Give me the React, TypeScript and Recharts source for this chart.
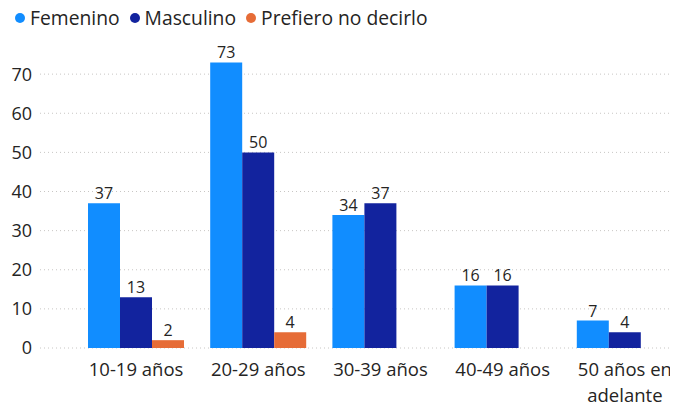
import React from "react";
import { BarChart, Bar, XAxis, YAxis, CartesianGrid, LabelList, Text } from "recharts";

const categories = ["10-19 años", "20-29 años", "30-39 años", "40-49 años", "50 años en adelante"];
const femenino = [37, 73, 34, 16, 7];
const masculino = [13, 50, 37, 16, 4];
const prefiero: (number | null)[] = [2, 4, null, null, null];
const yTicks = [0, 10, 20, 30, 40, 50, 60, 70];

const series = [
  { key: "femenino", name: "Femenino", color: "#118DFF" },
  { key: "masculino", name: "Masculino", color: "#12239E" },
  { key: "prefiero", name: "Prefiero no decirlo", color: "#E66C37" },
];

const data = categories.map((c, i) => ({
  cat: c,
  femenino: femenino[i],
  masculino: masculino[i],
  prefiero: prefiero[i],
}));

const FONT = "'Segoe UI', 'Open Sans', 'Noto Sans', sans-serif";
const TEXT = "#252423";

const LegendBox = () => (
  <div style={{ position: "absolute", left: 15, top: 4, display: "flex", alignItems: "center", fontFamily: FONT, fontSize: 19.3, color: TEXT, whiteSpace: "nowrap" }}>
    {series.map((s) => (
      <div key={s.key} style={{ display: "flex", alignItems: "center", marginRight: 10 }}>
        <span style={{ width: 10, height: 10, borderRadius: 5, background: s.color, display: "inline-block", marginRight: 5 }} />
        <span>{s.name}</span>
      </div>
    ))}
  </div>
);

const XTick = (props: any) => {
  const { x, y, payload } = props;
  return (
    <Text x={x} y={y} width={106} textAnchor="middle" verticalAnchor="start" lineHeight={26}
      style={{ fontFamily: FONT, fontSize: 18.5, fill: TEXT }}>
      {payload.value}
    </Text>
  );
};

const BarLabel = (props: any) => {
  const { x, y, width, value } = props;
  if (value === null || value === undefined || value === 0) return null;
  return (
    <text x={x + width / 2} y={y - 4} textAnchor="middle" style={{ fontFamily: FONT, fontSize: 16, fill: TEXT }}>
      {value}
    </text>
  );
};

export default function App() {
  return (
    <div style={{ margin: -8, width: 678, height: 411, overflow: "hidden", background: "#fff", position: "relative" }}>
      <BarChart width={686} height={411} data={data} margin={{ top: 35, right: 0, left: 0, bottom: 10 }}
        barCategoryGap={13} barGap={0}>
        <CartesianGrid vertical={false} stroke="#C8C6C4" strokeDasharray="1 3" horizontalValues={yTicks} />
        <XAxis dataKey="cat" axisLine={false} tickLine={false} tickSize={6} tickMargin={9}
          padding={{ left: 35, right: 0 }} interval={0} height={53} tick={<XTick />} />
        <YAxis width={40} domain={[0, 80]} ticks={yTicks} axisLine={false} tickLine={false}
          tick={{ fontFamily: FONT, fontSize: 18, fill: TEXT }} />
        {series.map((s) => (
          <Bar key={s.key} dataKey={s.key} name={s.name} fill={s.color} isAnimationActive={false}>
            <LabelList dataKey={s.key} content={<BarLabel />} />
          </Bar>
        ))}
      </BarChart>
      <LegendBox />
    </div>
  );
}
